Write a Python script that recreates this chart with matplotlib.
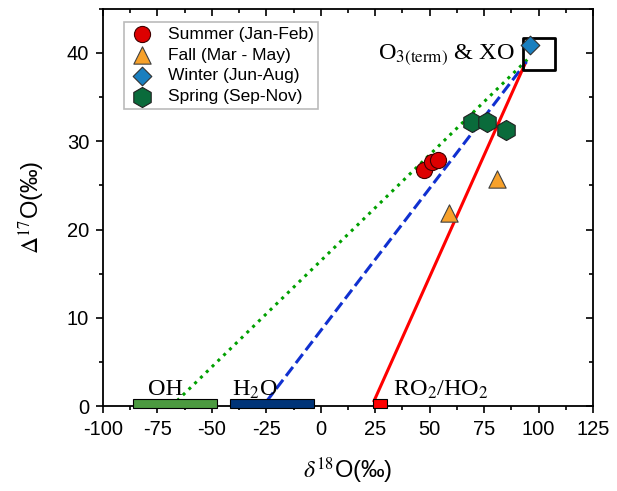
import matplotlib
matplotlib.use('Agg')
import matplotlib.pyplot as plt
from matplotlib.patches import Rectangle
from matplotlib.ticker import MultipleLocator

plt.rcParams['font.family'] = ['Liberation Sans', 'DejaVu Sans']
plt.rcParams['mathtext.fontset'] = 'stix'
plt.rcParams['axes.unicode_minus'] = False

# seasonal data (d18O, D17O)
summer_x = [47.4, 51.1, 53.8]
summer_y = [26.7, 27.6, 27.9]
fall_x = [58.9, 80.9]
fall_y = [21.9, 25.7]
winter_x = [96.0]
winter_y = [40.9]
spring_x = [69.4, 76.3, 85.0]
spring_y = [32.2, 32.2, 31.3]

# source end members: (x0, x1)
oh_range = [-86.2, -47.7]
h2o_range = [-41.7, -3.1]
ro2_range = [24.0, 30.4]

# mixing lines from each source to O3(term)
oh_line_x, oh_line_y = [-66, 95.5], [0.6, 39.4]
h2o_line_x, h2o_line_y = [-25, 94.5], [0.5, 39.0]
ro2_line_x, ro2_line_y = [24.5, 93.5], [0.6, 38.6]

o3_x, o3_y = 100.2, 39.9

fig = plt.figure(figsize=(6.17, 4.91), dpi=100)
ax = fig.add_axes([0.167, 0.173, 0.794, 0.809])

ax.plot(oh_line_x, oh_line_y, ':', color='#00a000', lw=2.2, zorder=2)
ax.plot(h2o_line_x, h2o_line_y, '--', color='#1030d0', lw=2.2, zorder=2)
ax.plot(ro2_line_x, ro2_line_y, '-', color='#ff0000', lw=2.2, zorder=2)

# end-member bars
for (x0, x1), c in [(oh_range, '#4c9a40'), (h2o_range, '#003478'), (ro2_range, '#ff0000')]:
    ax.add_patch(Rectangle((x0, -0.2), x1 - x0, 1.0, facecolor=c, edgecolor='black',
                           lw=0.8, clip_on=False, zorder=3))

# O3(term) box
ax.scatter([o3_x], [o3_y], marker='s', s=520, facecolor='none', edgecolor='black',
           linewidths=2, zorder=3)

ax.scatter(summer_x, summer_y, marker='o', s=135, color='#dd0000', edgecolor='#400000',
           linewidths=0.8, zorder=4, label='Summer (Jan-Feb)')
ax.scatter(fall_x, fall_y, marker='^', s=155, color='#f7a12a', edgecolor='#404040',
           linewidths=0.8, zorder=4, label='Fall (Mar - May)')
ax.scatter(winter_x, winter_y, marker='D', s=90, color='#1a7fbf', edgecolor='#303030',
           linewidths=0.8, zorder=4, label='Winter (Jun-Aug)')
ax.scatter(spring_x, spring_y, marker='h', s=210, color='#0a6b3b', edgecolor='#202020',
           linewidths=0.8, zorder=4, label='Spring (Sep-Nov)')

ax.text(-71.5, 1.2, 'OH', family='Liberation Serif', fontsize=17.5, ha='center', va='baseline')
ax.text(-41, 1.2, 'H$_2$O', family='Liberation Serif', fontsize=17.5, ha='left', va='baseline')
ax.text(33, 1.2, 'RO$_2$/HO$_2$', family='Liberation Serif', fontsize=17.5, ha='left', va='baseline')
ax.text(89, 39.8, 'O$_{3(\\mathrm{term})}$ & XO', family='Liberation Serif', fontsize=17.5,
        ha='right', va='center')

ax.set_xlim(-100, 125)
ax.set_ylim(0, 45)
ax.xaxis.set_major_locator(MultipleLocator(25))
ax.xaxis.set_minor_locator(MultipleLocator(12.5))
ax.yaxis.set_major_locator(MultipleLocator(10))
ax.yaxis.set_minor_locator(MultipleLocator(5))
ax.tick_params(which='both', direction='out', top=True, right=True, labelsize=14.5, width=1.2)
ax.tick_params(which='major', length=5, pad=5)
ax.tick_params(which='minor', length=3)
# Origin-style: top and right ticks point inward
for t in ax.xaxis.get_major_ticks() + ax.xaxis.get_minor_ticks():
    t.tick2line.set_marker(3)
for t in ax.yaxis.get_major_ticks() + ax.yaxis.get_minor_ticks():
    t.tick2line.set_marker(0)
for s in ax.spines.values():
    s.set_linewidth(1.3)

ax.set_xlabel('$\\delta^{18}$O(‰)', fontsize=17, labelpad=12)
ax.set_ylabel('$\\Delta^{17}$O(‰)', fontsize=17, labelpad=14)

leg = ax.legend(loc='upper left', bbox_to_anchor=(0.035, 0.975), fontsize=12.5, frameon=True,
                fancybox=False, edgecolor='#aaaaaa', handletextpad=0.7, borderpad=0.25,
                labelspacing=0.33, handlelength=1.6, borderaxespad=0.2)
leg.get_frame().set_linewidth(1.2)

fig.savefig('out.png', dpi=100)
